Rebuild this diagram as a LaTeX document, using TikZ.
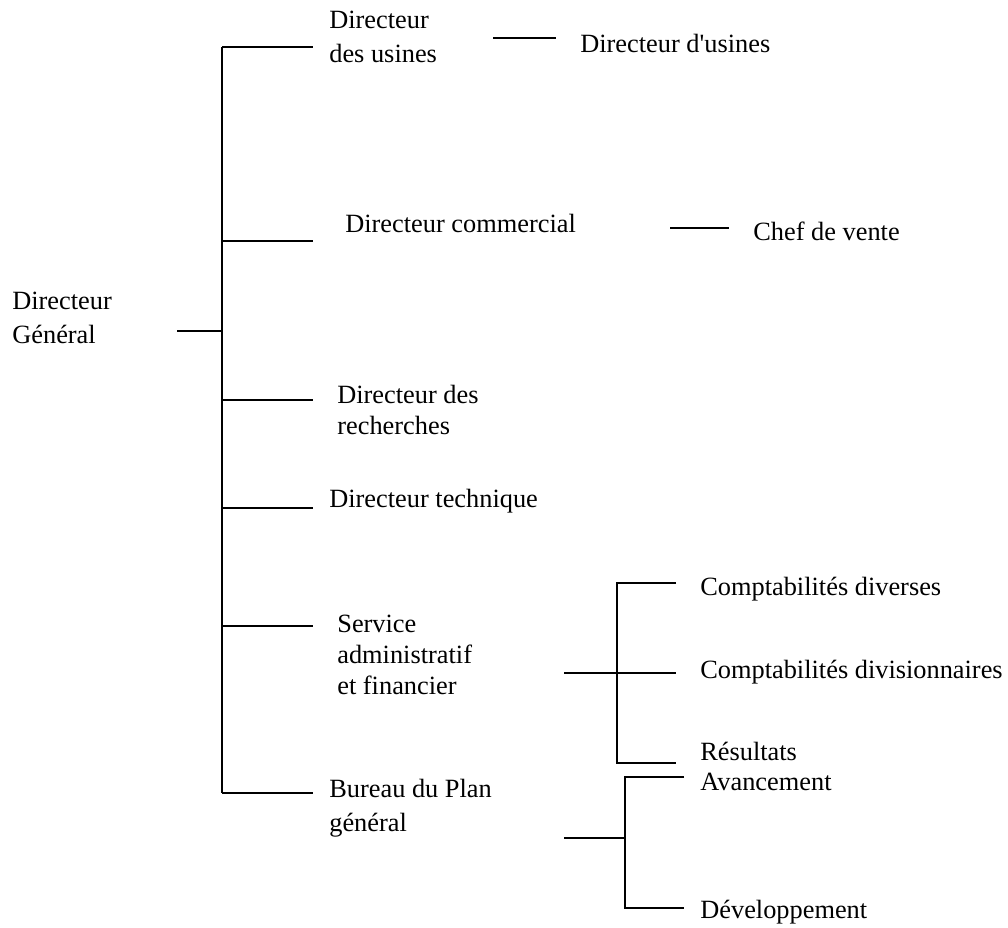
\documentclass[tikz,border=0pt]{standalone}
\usepackage{fontspec}
\setmainfont{Liberation Serif}
\usetikzlibrary{positioning}
\tikzset{
  lbl/.style={anchor=base west, inner sep=0pt, align=left,
    font=\fontsize{15}{19.3}\selectfont},
  lblserre/.style={lbl, font=\fontsize{15}{17.6}\selectfont},
  trait/.style={line width=1.4pt}
}
\begin{document}
\begin{tikzpicture}[x=0.02cm,y=-0.02cm]
  \useasboundingbox (0,0) rectangle (1008,927);
  % Textes (base = derniere ligne)
    \node[lbl] (dg) at (12,343) {Directeur\\Général};
    \node[lbl] (usines) at (329,62) {Directeur\\des usines};
    \node[lbl] (dusines) at (580,52) {Directeur d\textquotesingle usines};
    \node[lbl] (commercial) at (345,232) {Directeur commercial};
    \node[lbl] (vente) at (753,240) {Chef de vente};
    \node[lblserre] (recherches) at (337,434) {Directeur des\\recherches};
    \node[lbl] (technique) at (329,507) {Directeur technique};
    \node[lblserre] (admin) at (337,694) {Service\\administratif\\et financier};
    \node[lbl] (plan) at (329,831) {Bureau du Plan\\général};
    \node[lbl] (diverses) at (700,595) {Comptabilités diverses};
    \node[lbl] (division) at (700,678) {Comptabilités divisionnaires};
    \node[lbl] (resultats) at (700,760) {Résultats};
    \node[lbl] (avance) at (700,790) {Avancement};
    \node[lbl] (dev) at (700,918) {Développement};

  % Arbre principal
    \coordinate (dgE) at (177,331);
    \coordinate (dgB) at (222,331);
    \foreach \y [count=\i] in {47,241,400,508,626,793} {
      \coordinate (bus\i) at (222,\y);
      \coordinate (br\i) at (313,\y);
    }
    \draw[trait] (dgE) -- (dgB);
    \draw[trait] (bus1) -- (bus6);
    \foreach \i in {1,...,6}
      \draw[trait] (bus\i) -- (br\i);

  % Liaisons simples
    \coordinate (u1) at (493,38);
    \coordinate (u2) at (556,38);
    \coordinate (c1) at (670,228);
    \coordinate (c2) at (729,228);
    \draw[trait] (u1) -- (u2);
    \draw[trait] (c1) -- (c2);

  % Service administratif
    \coordinate (sa0) at (564,673);
    \coordinate (saV) at (617,673);
    \coordinate (sa1) at (676,583);
    \coordinate (sa2) at (676,673);
    \coordinate (sa3) at (676,763);
    \draw[trait] (sa0) -- (sa2);
    \draw[trait] (sa1) -| (saV) |- (sa3);

  % Bureau du Plan
    \coordinate (bp0) at (564,838);
    \coordinate (bpV) at (625,838);
    \coordinate (bp1) at (684,777);
    \coordinate (bp2) at (684,908);
    \draw[trait] (bp0) -- (bpV);
    \draw[trait] (bp1) -| (bpV) |- (bp2);
\end{tikzpicture}
\end{document}
